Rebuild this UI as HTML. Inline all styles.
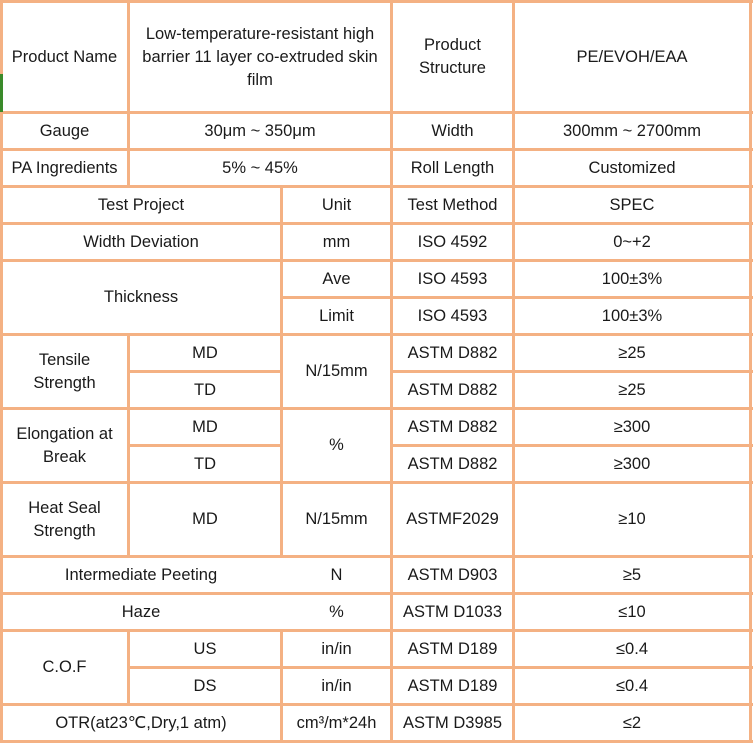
<!DOCTYPE html>
<html><head><meta charset="utf-8">
<style>
body{margin:0;background:#fff;}
#t{position:relative;width:753px;height:743px;overflow:hidden;background:#fff;font-family:"Liberation Sans",sans-serif;font-size:16.5px;color:#1a1a1a;}
.h,.v{position:absolute;background:#F4B183;}
.h{height:3px;}
.v{width:3px;}
.c{position:absolute;display:flex;align-items:center;justify-content:center;text-align:center;line-height:23px;}
</style></head><body>
<div id="t">
<script>
const t=document.getElementById('t');
const H=[[0,0,753],[111,0,753],[148,0,753],[185,0,753],[222,0,753],[259,0,753],[296,281,753],[333,0,753],[370,128,282],[370,391,753],[407,0,753],[444,128,282],[444,391,753],[481,0,753],[555,0,753],[592,0,753],[629,0,753],[666,128,753],[703,0,753],[740,0,753]];
const V=[[0,0,743],[127,0,186],[127,333,555],[127,629,703],[280,185,555],[280,629,743],[390,0,743],[512,0,743],[749,0,743]];
H.forEach(a=>{const d=document.createElement('div');d.className='h';


d.style.cssText=`top:${a[0]}px;left:${a[1]}px;width:${a[2]-a[1]}px`;t.appendChild(d);});
V.forEach(a=>{const d=document.createElement('div');d.className='v';


d.style.cssText=`left:${a[0]}px;top:${a[1]}px;height:${a[2]-a[1]}px`;t.appendChild(d);});
</script>
<div class="v" style="left:0;top:74px;height:38px;background:#3a8a2a"></div>
<div class="c" style="left:2px;top:3px;width:125px;height:108px">Product Name</div>
<div class="c" style="left:130px;top:3px;width:260px;height:108px">Low-temperature-resistant high barrier 11 layer co-extruded skin film</div>
<div class="c" style="left:393px;top:3px;width:119px;height:108px">Product<br>Structure</div>
<div class="c" style="left:515px;top:3px;width:234px;height:108px">PE/EVOH/EAA</div>

<div class="c" style="left:2px;top:114px;width:125px;height:34px">Gauge</div>
<div class="c" style="left:130px;top:114px;width:260px;height:34px">30μm ~ 350μm</div>
<div class="c" style="left:393px;top:114px;width:119px;height:34px">Width</div>
<div class="c" style="left:515px;top:114px;width:234px;height:34px">300mm ~ 2700mm</div>

<div class="c" style="left:2px;top:151px;width:125px;height:34px">PA Ingredients</div>
<div class="c" style="left:130px;top:151px;width:260px;height:34px">5% ~ 45%</div>
<div class="c" style="left:393px;top:151px;width:119px;height:34px">Roll Length</div>
<div class="c" style="left:515px;top:151px;width:234px;height:34px">Customized</div>

<div class="c" style="left:2px;top:188px;width:278px;height:34px">Test Project</div>
<div class="c" style="left:283px;top:188px;width:107px;height:34px">Unit</div>
<div class="c" style="left:393px;top:188px;width:119px;height:34px">Test Method</div>
<div class="c" style="left:515px;top:188px;width:234px;height:34px">SPEC</div>

<div class="c" style="left:2px;top:225px;width:278px;height:34px">Width Deviation</div>
<div class="c" style="left:283px;top:225px;width:107px;height:34px">mm</div>
<div class="c" style="left:393px;top:225px;width:119px;height:34px">ISO 4592</div>
<div class="c" style="left:515px;top:225px;width:234px;height:34px">0~+2</div>

<div class="c" style="left:2px;top:262px;width:278px;height:71px">Thickness</div>
<div class="c" style="left:283px;top:262px;width:107px;height:34px">Ave</div>
<div class="c" style="left:393px;top:262px;width:119px;height:34px">ISO 4593</div>
<div class="c" style="left:515px;top:262px;width:234px;height:34px">100±3%</div>
<div class="c" style="left:283px;top:299px;width:107px;height:34px">Limit</div>
<div class="c" style="left:393px;top:299px;width:119px;height:34px">ISO 4593</div>
<div class="c" style="left:515px;top:299px;width:234px;height:34px">100±3%</div>

<div class="c" style="left:2px;top:336px;width:125px;height:71px">Tensile<br>Strength</div>
<div class="c" style="left:130px;top:336px;width:150px;height:34px">MD</div>
<div class="c" style="left:130px;top:373px;width:150px;height:34px">TD</div>
<div class="c" style="left:283px;top:336px;width:107px;height:71px">N/15mm</div>
<div class="c" style="left:393px;top:336px;width:119px;height:34px">ASTM D882</div>
<div class="c" style="left:515px;top:336px;width:234px;height:34px">≥25</div>
<div class="c" style="left:393px;top:373px;width:119px;height:34px">ASTM D882</div>
<div class="c" style="left:515px;top:373px;width:234px;height:34px">≥25</div>

<div class="c" style="left:2px;top:410px;width:125px;height:71px">Elongation at<br>Break</div>
<div class="c" style="left:130px;top:410px;width:150px;height:34px">MD</div>
<div class="c" style="left:130px;top:447px;width:150px;height:34px">TD</div>
<div class="c" style="left:283px;top:410px;width:107px;height:71px">%</div>
<div class="c" style="left:393px;top:410px;width:119px;height:34px">ASTM D882</div>
<div class="c" style="left:515px;top:410px;width:234px;height:34px">≥300</div>
<div class="c" style="left:393px;top:447px;width:119px;height:34px">ASTM D882</div>
<div class="c" style="left:515px;top:447px;width:234px;height:34px">≥300</div>

<div class="c" style="left:2px;top:484px;width:125px;height:71px">Heat Seal<br>Strength</div>
<div class="c" style="left:130px;top:484px;width:150px;height:71px">MD</div>
<div class="c" style="left:283px;top:484px;width:107px;height:71px">N/15mm</div>
<div class="c" style="left:393px;top:484px;width:119px;height:71px">ASTMF2029</div>
<div class="c" style="left:515px;top:484px;width:234px;height:71px">≥10</div>

<div class="c" style="left:2px;top:558px;width:278px;height:34px">Intermediate Peeting</div>
<div class="c" style="left:283px;top:558px;width:107px;height:34px">N</div>
<div class="c" style="left:393px;top:558px;width:119px;height:34px">ASTM D903</div>
<div class="c" style="left:515px;top:558px;width:234px;height:34px">≥5</div>

<div class="c" style="left:2px;top:595px;width:278px;height:34px">Haze</div>
<div class="c" style="left:283px;top:595px;width:107px;height:34px">%</div>
<div class="c" style="left:393px;top:595px;width:119px;height:34px">ASTM D1033</div>
<div class="c" style="left:515px;top:595px;width:234px;height:34px">≤10</div>

<div class="c" style="left:2px;top:632px;width:125px;height:71px">C.O.F</div>
<div class="c" style="left:130px;top:632px;width:150px;height:34px">US</div>
<div class="c" style="left:130px;top:669px;width:150px;height:34px">DS</div>
<div class="c" style="left:283px;top:632px;width:107px;height:34px">in/in</div>
<div class="c" style="left:283px;top:669px;width:107px;height:34px">in/in</div>
<div class="c" style="left:393px;top:632px;width:119px;height:34px">ASTM D189</div>
<div class="c" style="left:393px;top:669px;width:119px;height:34px">ASTM D189</div>
<div class="c" style="left:515px;top:632px;width:234px;height:34px">≤0.4</div>
<div class="c" style="left:515px;top:669px;width:234px;height:34px">≤0.4</div>

<div class="c" style="left:2px;top:706px;width:278px;height:34px">OTR(at23℃,Dry,1 atm)</div>
<div class="c" style="left:283px;top:706px;width:107px;height:34px">cm³/m*24h</div>
<div class="c" style="left:393px;top:706px;width:119px;height:34px">ASTM D3985</div>
<div class="c" style="left:515px;top:706px;width:234px;height:34px">≤2</div>
</div>
</body></html>
